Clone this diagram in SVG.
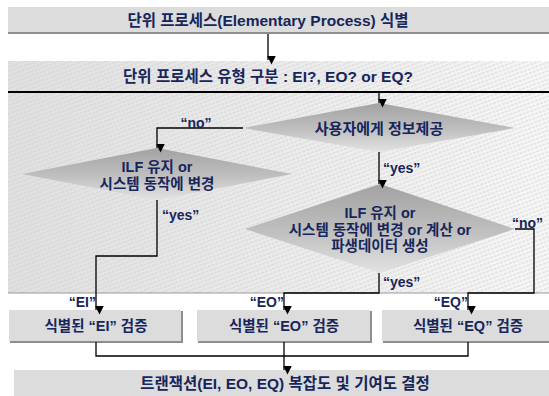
<svg xmlns="http://www.w3.org/2000/svg" width="549" height="396" viewBox="0 0 549 396">
<style>
text{font-family:"Liberation Sans","Noto Sans CJK KR",Arial,sans-serif;font-weight:bold;fill:#17265a;text-anchor:middle;dominant-baseline:central}
.lbl{font-size:14px}
.st{text-anchor:start}
.en{text-anchor:end}
.box{fill:#dcdcdc}
.shd{fill:#8e8e8e}
.dia{fill:url(#dg)}
.con{fill:none;stroke:#000;stroke-width:1.3}
</style>
<defs>
<linearGradient id="pg" x1="0" y1="0" x2="1" y2="0">
<stop offset="0" stop-color="#e0e0e0"/>
<stop offset="1" stop-color="#f7f7f7"/>
</linearGradient>
<pattern id="hatch" width="12" height="4" patternUnits="userSpaceOnUse" patternTransform="rotate(-20)">
<line x1="0" y1="2" x2="12" y2="2" stroke="#cdcdcd" stroke-width="0.8" stroke-dasharray="3 1"/>
</pattern>
<linearGradient id="dg" x1="0" y1="0" x2="0" y2="1">
<stop offset="0" stop-color="#a2a2a2"/>
<stop offset="0.55" stop-color="#c0c0c0"/>
<stop offset="1" stop-color="#e2e2e2"/>
</linearGradient>
<marker id="ah" markerWidth="9" markerHeight="9" refX="4.5" refY="8" orient="auto-start-reverse" markerUnits="userSpaceOnUse" viewBox="0 0 9 9">
<path d="M0,0 L9,0 L4.5,9 Z" fill="#000" transform="rotate(-90 4.5 4.5)"/>
</marker>
</defs>

<g id="panel">
<rect x="8" y="61" width="541" height="232" fill="url(#pg)"/>
<rect x="8" y="61" width="541" height="232" fill="url(#hatch)"/>
<line x1="8" y1="293" x2="549" y2="293" stroke="#9a9a9a" stroke-width="1"/>
<line x1="8" y1="92" x2="549" y2="92" stroke="#000" stroke-width="2.2"/>
<text x="268" y="76" style="font-size:15.5px">단위 프로세스 유형 구분 : EI?, EO? or EQ?</text>
</g>

<g id="n-top">
<rect x="8" y="7" width="541" height="27" class="shd"/>
<rect x="8" y="7" width="541" height="25" class="box"/>
<text x="268" y="20" style="font-size:15.5px">단위 프로세스(Elementary Process) 식별</text>
</g>

<g id="d-info">
<polygon points="379,103 515,128 379,152 243,128" class="dia"/>
<text x="379" y="128" style="font-size:15px">사용자에게 정보제공</text>
</g>

<g id="d-ei">
<polygon points="157,148 292,174 157,200 22,174" class="dia"/>
<text x="157" y="167" style="font-size:14.5px">ILF 유지 or</text>
<text x="157" y="184" style="font-size:14.5px">시스템 동작에 변경</text>
</g>

<g id="d-eo">
<polygon points="380,184 515,229 380,273 245,229" class="dia"/>
<text x="380" y="213" style="font-size:14.5px">ILF 유지 or</text>
<text x="380" y="230" style="font-size:14.5px">시스템 동작에 변경 or 계산 or</text>
<text x="380" y="246" style="font-size:14.5px">파생데이터 생성</text>
</g>

<g id="n-ei">
<rect x="10" y="311" width="173" height="32" class="shd"/>
<rect x="9" y="310" width="172" height="31" class="box"/>
<text x="96" y="326" style="font-size:14.5px">식별된 “EI” 검증</text>
</g>

<g id="n-eo">
<rect x="198" y="311" width="174" height="32" class="shd"/>
<rect x="197" y="310" width="173" height="31" class="box"/>
<text x="284" y="326" style="font-size:14.5px">식별된 “EO” 검증</text>
</g>

<g id="n-eq">
<rect x="383" y="311" width="166" height="32" class="shd"/>
<rect x="382" y="310" width="167" height="31" class="box"/>
<text x="468" y="326" style="font-size:14.5px">식별된 “EQ” 검증</text>
</g>

<g id="n-bottom">
<rect x="14" y="370" width="535" height="26" class="box"/>
<text x="285" y="383" style="font-size:15.5px">트랜잭션(EI, EO, EQ) 복잡도 및 기여도 결정</text>
</g>

<g id="connectors">
<path class="con" d="M268,34 V60" marker-end="url(#ah)"/>
<path class="con" d="M379,93 V103" marker-end="url(#ah)"/>
<path class="con" d="M243,128 H157 V148" marker-end="url(#ah)"/>
<path class="con" d="M157,200 V256 H96 V310" marker-end="url(#ah)"/>
<path class="con" d="M379,152 V184" marker-end="url(#ah)"/>
<path class="con" d="M515,229 H534 V293 H468 V310" marker-end="url(#ah)"/>
<path class="con" d="M379,273 V293 H284 V310" marker-end="url(#ah)"/>
<path class="con" d="M96,342 V356 H468 V342"/>
<path class="con" d="M284,342 V370" marker-end="url(#ah)"/>
<text class="lbl" x="196" y="123">“no”</text>
<text class="lbl st" x="162" y="215">“yes”</text>
<text class="lbl st" x="383" y="168">“yes”</text>
<text class="lbl st" x="512" y="223">“no”</text>
<text class="lbl st" x="383" y="282">“yes”</text>
<text class="lbl en" x="96" y="302">“EI”</text>
<text class="lbl en" x="284" y="302">“EO”</text>
<text class="lbl en" x="468" y="302">“EQ”</text>
</g>
</svg>
